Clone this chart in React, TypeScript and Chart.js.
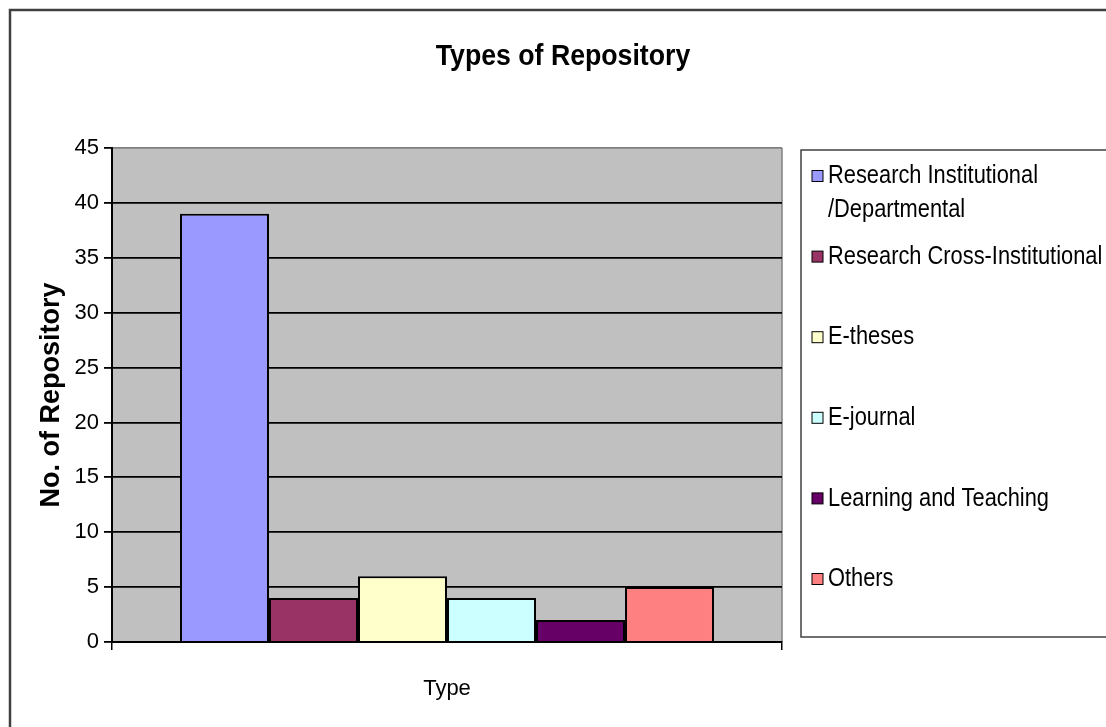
import React, { useEffect, useRef } from "react";
import { Chart, registerables } from "chart.js";

Chart.register(...registerables);

const categories = ["Type"];
const seriesNames = [
  "Research Institutional\n/Departmental",
  "Research Cross-Institutional",
  "E-theses",
  "E-journal",
  "Learning and Teaching",
  "Others",
];
const seriesValues = [39, 4, 6, 4, 2, 5];
const seriesColors = ["#9999FF", "#993366", "#FFFFCC", "#CCFFFF", "#660066", "#FF8080"];
const yMin = 0;
const yMax = 45;
const yStep = 5;
const chartTitle = "Types of Repository";
const yTitle = "No. of Repository";

const FONT = "'Liberation Sans', Arial, sans-serif";

const decorPlugin = {
  id: "decor",
  beforeDraw(chart: any) {
    const { ctx, chartArea } = chart;
    ctx.save();
    ctx.fillStyle = "#FFFFFF";
    ctx.fillRect(0, 0, chart.width, chart.height);
    // outer chart border
    ctx.strokeStyle = "#404040";
    ctx.lineWidth = 2.5;
    ctx.strokeRect(10, 10, chart.width + 20, chart.height + 20);
    // plot area
    ctx.fillStyle = "#C0C0C0";
    ctx.fillRect(chartArea.left, chartArea.top, chartArea.right - chartArea.left, chartArea.bottom - chartArea.top);
    ctx.strokeStyle = "#808080";
    ctx.lineWidth = 1.5;
    ctx.beginPath();
    ctx.moveTo(chartArea.right, chartArea.top);
    ctx.lineTo(chartArea.right, chartArea.bottom);
    ctx.stroke();
    // title (slightly condensed)
    ctx.fillStyle = "#000000";
    ctx.font = `bold 29px ${FONT}`;
    ctx.textAlign = "center";
    ctx.textBaseline = "middle";
    ctx.translate(563, 57);
    ctx.scale(0.92, 1);
    ctx.fillText(chartTitle, 0, 0);
    ctx.restore();
  },
  afterDraw(chart: any) {
    const { ctx } = chart;
    ctx.save();
    // legend box
    const bx = 801, by = 150;
    ctx.fillStyle = "#FFFFFF";
    ctx.fillRect(bx, by, chart.width - bx + 20, 487);
    ctx.strokeStyle = "#404040";
    ctx.lineWidth = 1.5;
    ctx.strokeRect(bx, by, chart.width - bx + 20, 487);
    ctx.font = `26px ${FONT}`;
    ctx.textAlign = "left";
    ctx.textBaseline = "middle";
    chart.data.datasets.forEach((ds: any, i: number) => {
      const cy = 176 + i * 80.6;
      const sz = 11;
      ctx.fillStyle = ds.backgroundColor;
      ctx.fillRect(812, cy - sz / 2, sz, sz);
      ctx.strokeStyle = "#000000";
      ctx.lineWidth = 1;
      ctx.strokeRect(812, cy - sz / 2, sz, sz);
      ctx.fillStyle = "#000000";
      const lines = String(ds.label).split("\n");
      lines.forEach((ln: string, j: number) => {
        ctx.save();
        ctx.translate(828, cy + j * 34);
        ctx.scale(0.84, 1);
        ctx.fillText(ln, 0, 0);
        ctx.restore();
      });
    });
    ctx.restore();
  },
};

export default function App() {
  const ref = useRef<HTMLCanvasElement | null>(null);
  useEffect(() => {
    if (!ref.current) return;
    const chart = new Chart(ref.current, {
      type: "bar",
      data: {
        labels: categories,
        datasets: seriesNames.map((name, i) => ({
          label: name,
          data: [seriesValues[i]],
          backgroundColor: seriesColors[i],
          borderColor: "#000000",
          borderWidth: 2,
          barPercentage: 1,
          categoryPercentage: 0.797,
        })),
      },
      options: {
        responsive: false,
        animation: false,
        devicePixelRatio: 1,
        layout: { padding: { left: 10, right: 324, top: 148, bottom: 0 } },
        plugins: {
          legend: { display: false },
          title: { display: false },
          tooltip: { enabled: false },
        },
        scales: {
          x: {
            grid: {
              drawOnChartArea: false,
              drawTicks: true,
              tickLength: 8,
              color: "#000000",
              tickColor: "#000000",
              lineWidth: 1.5,
            },
            border: { display: true, color: "#000000", width: 2 },
            ticks: {
              color: "#000000",
              padding: 26,
              font: { family: FONT, size: 22 },
            },
            afterFit: (scale: any) => {
              scale.height = 85;
            },
          },
          y: {
            min: yMin,
            max: yMax,
            ticks: {
              stepSize: yStep,
              color: "#000000",
              padding: 5,
              font: { family: FONT, size: 22 },
            },
            grid: {
              color: (c: any) => (c.tick && c.tick.value === yMax ? "#808080" : "#000000"),
              tickColor: "#000000",
              lineWidth: 1.8,
              tickLength: 8,
            },
            border: { display: true, color: "#000000", width: 2 },
            title: {
              display: true,
              text: yTitle,
              color: "#000000",
              font: { family: FONT, size: 27, weight: "bold" },
              padding: { top: 25, bottom: 0 },
            },
            afterFit: (scale: any) => {
              scale.width = 102;
            },
          },
        },
      },
      plugins: [decorPlugin],
    });
    return () => chart.destroy();
  }, []);
  return (
    <div style={{ position: "fixed", left: 0, top: 0, width: 1106, height: 727 }}>
      <canvas ref={ref} width={1106} height={727} />
    </div>
  );
}
